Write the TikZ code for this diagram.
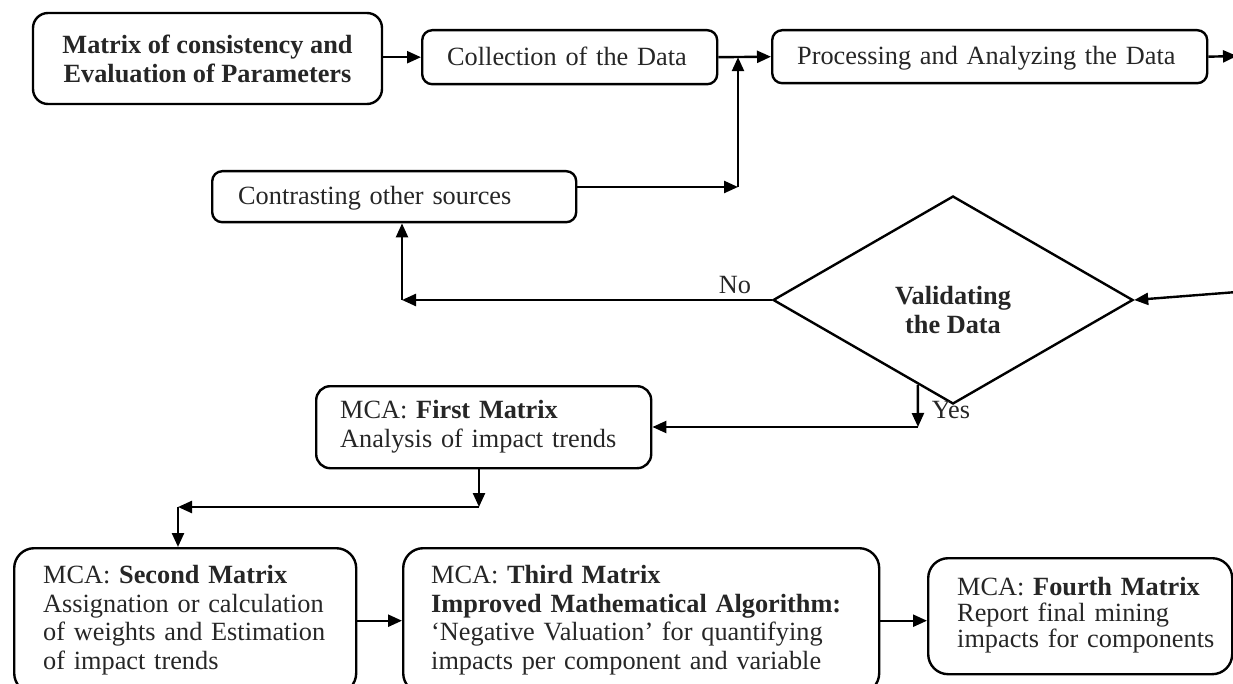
\documentclass[tikz,border=0pt]{standalone}
\usepackage{fontspec}
\setmainfont{Liberation Serif}
\usetikzlibrary{arrows.meta,shapes.geometric,calc}

\tikzset{
  txt/.style={font=\fontsize{26.3}{29}\selectfont, text=black!85},
  box/.style={draw, line width=2.4pt, rounded corners=#1, txt, inner sep=0pt},
  box/.default=12pt,
  lbox/.style={box=#1, align=left, anchor=north west},
  onebox/.style={box=#1, anchor=north west, align=left, text height=20pt, text depth=4pt},
  arr/.style={line width=2.4pt, -{Triangle[length=14pt,width=12pt]}},
}

\begin{document}
\begin{tikzpicture}[x=1pt,y=-1pt]
\useasboundingbox (0,0) rectangle (1233,684);
\clip (0,0) rectangle (1233,684);

% top row
\node[box=15pt, minimum width=349pt, minimum height=91pt, align=center] (m0) at (207.5,58.5)
  {\textbf{Matrix of consistency and}\\\textbf{Evaluation of Parameters}};
\node[onebox=10pt, minimum height=54pt, text width=245pt, inner xsep=25pt] (collect) at (421,29)
  {Collection of the Data};
\node[onebox=10pt, minimum height=53pt, text width=385pt, inner xsep=25pt] (proc) at (771,29)
  {Processing and Analyzing the Data};

% feedback source
\node[onebox=10pt, minimum height=51pt, text width=312pt, inner xsep=26pt] (contr) at (211,170)
  {Contrasting other sources};

% decision
\node[diamond, draw, line width=2.4pt, minimum width=360pt, minimum height=208pt, aspect=1.73, inner sep=0pt] (dia) at (953,300) {};
\node[txt, align=center] (diatxt) at (953,310) {\textbf{Validating}\\\textbf{the Data}};

% MCA matrices
\node[lbox=14pt, minimum height=82pt, text width=287pt, inner xsep=24pt] (first) at (315,385)
  {\begin{tabular}{@{}l@{}}MCA: \textbf{First Matrix}\\Analysis of impact trends\end{tabular}};
\node[lbox=20pt, minimum height=145pt, text width=284pt, inner xsep=29pt,
      font=\fontsize{26.3}{28.5}\selectfont] (second) at (13,547)
  {\begin{tabular}{@{}l@{}}MCA: \textbf{Second Matrix}\\Assignation or calculation\\of weights and Estimation\\of impact trends\end{tabular}};
\node[lbox=20pt, minimum height=145pt, text width=420pt, inner xsep=28pt,
      font=\fontsize{26.3}{28.5}\selectfont] (third) at (402,547)
  {\begin{tabular}{@{}l@{}}MCA: \textbf{Third Matrix}\\\textbf{Improved Mathematical Algorithm:}\\‘Negative Valuation’ for quantifying\\impacts per component and variable\end{tabular}};
\node[lbox=20pt, minimum height=116pt, text width=246pt, inner xsep=29pt,
      font=\fontsize{26.3}{25.5}\selectfont] (fourth) at (927,557)
  {\begin{tabular}{@{}l@{}}MCA: \textbf{Fourth Matrix}\\Report final mining\\impacts for components\end{tabular}};

% connectors along the top
\draw[arr] (m0.east |- collect.west) -- (collect.west);
\draw[arr] (collect.east) -- (proc.west);
\coordinate (outR) at (1237,56);
\draw[arr] (proc.east) -- (outR);

% back into the data stream
\coordinate (jn) at (738,187);
\draw[arr] (contr.east |- jn) -- (jn);
\draw[arr] (jn) -- (jn |- collect.east);

% into the decision
\coordinate (inR) at (1237,292);
\draw[arr] (inR) -- (dia.east);

% "No" branch
\coordinate (noc) at (402,300);
\draw[arr] (dia.west) -- (noc);
\draw[arr] (noc) -- (contr.south -| noc);
\node[txt] (nolab) at (735,285) {No};

% "Yes" branch
\coordinate (yt) at ($(dia.west)!0.8056!(dia.south)$);
\coordinate (yb) at (918,427);
\draw[arr] (yt) -- (yb);
\draw[arr] (yb) -- (first.east |- yb);
\node[txt] (yeslab) at (951,410) {Yes};

% first -> second
\coordinate (fd) at (479,507);
\coordinate (sd) at (178,507);
\draw[arr] (first.south -| fd) -- (fd);
\draw[arr] (fd) -- (sd);
\draw[arr] (sd) -- (second.north -| sd);

% along the bottom
\draw[arr] (second.east) -- (second.east -| third.west);
\draw[arr] (third.east) -- (third.east -| fourth.west);
\end{tikzpicture}
\end{document}
